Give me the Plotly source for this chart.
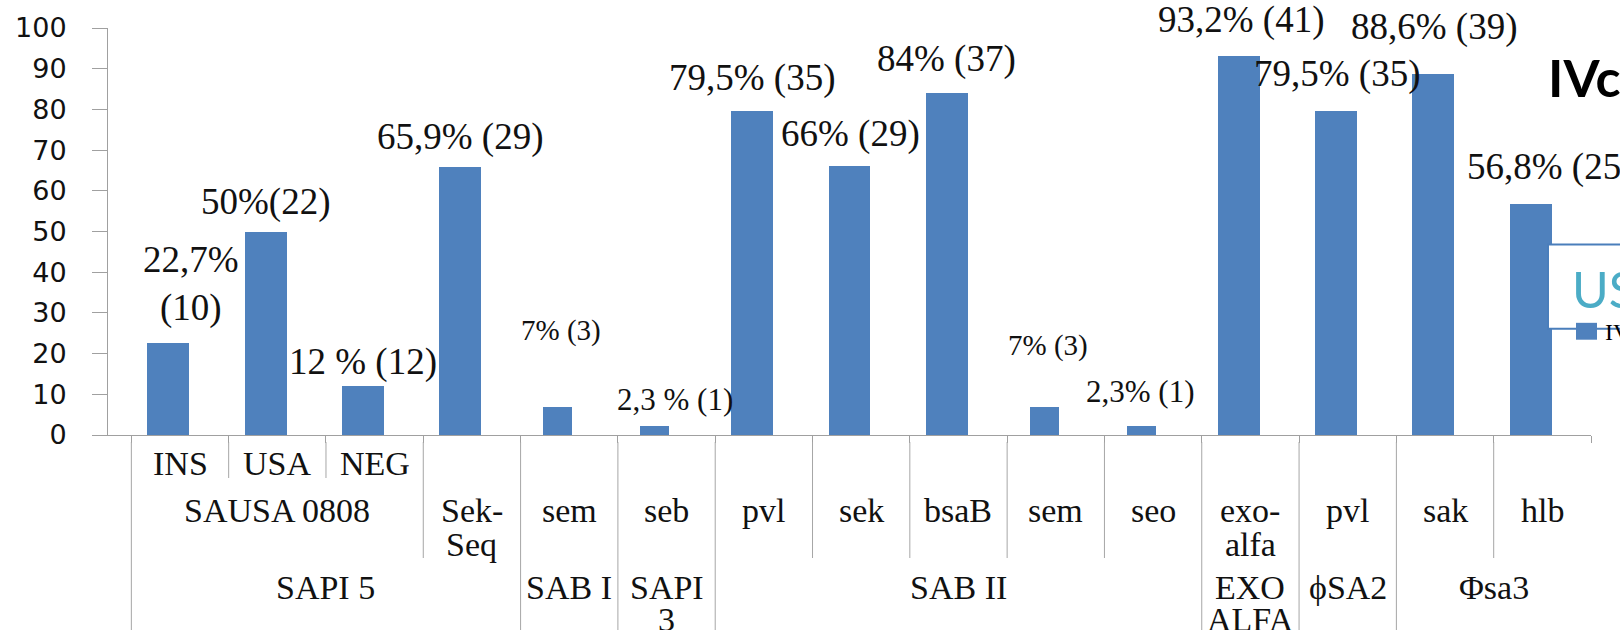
import plotly.graph_objects as go

# ---- data -------------------------------------------------------------
groups = ["SAPI 5"] * 4 + ["SAB I", "SAPI 3"] + ["SAB II"] * 5 + ["EXO ALFA", "ϕSA2", "Φsa3", "Φsa3"]
genes = ["SAUSA 0808"] * 3 + ["Sek-Seq", "sem", "seb", "pvl", "sek", "bsaB", "sem", "seo",
                              "exo-alfa", "pvl", "sak", "hlb"]
subtypes = ["INS", "USA", "NEG"] + [""] * 12
percent = [22.7, 50, 12, 65.9, 7, 2.3, 79.5, 66, 84, 7, 2.3, 93.2, 79.5, 88.6, 56.8]
counts = [10, 22, 12, 29, 3, 1, 35, 29, 37, 3, 1, 41, 35, 39, 25]
value_labels = ["22,7%<br>(10)", "50%(22)", "12 % (12)", "65,9% (29)", "7% (3)", "2,3 % (1)",
                "79,5% (35)", "66% (29)", "84% (37)", "7% (3)", "2,3% (1)", "93,2% (41)",
                "79,5% (35)", "88,6% (39)", "56,8% (25)"]
y_ticks = [0, 10, 20, 30, 40, 50, 60, 70, 80, 90, 100]

# ---- geometry / styles ------------------------------------------------
FIG_W, FIG_H = 1620, 630
M_L, M_R, M_T, M_B = 108, 29, 25, 195
PLOT_W = FIG_W - M_L - M_R
PLOT_H = FIG_H - M_T - M_B
X_RANGE = [-0.74, 14.5]
STEP = PLOT_W / (X_RANGE[1] - X_RANGE[0])

BAR_COLOR = "#4f81bd"
AXIS_GRAY = "#a0a0a0"
SERIF = "Liberation Serif, Times New Roman, serif"

bar_shift = -0.12                      # bars sit slightly left of their column
bar_widths = [0.43] * 4 + [0.3, 0.3] + [0.43] * 3 + [0.3, 0.3] + [0.43] * 4
bar_offsets = [bar_shift - w / 2 for w in bar_widths]

# label placement relative to bar top centre (px right, px up) and font size
label_offsets = [(23, 59), (0, 30), (0, 24), (0, 30), (3, 76), (20, 26), (0, 33), (1, 32),
                 (0, 34), (4, 61), (-1, 34), (2, 36), (1, 37), (1, 47), (19, 37)]
label_sizes = [37, 37, 37, 37, 29, 31, 37, 37, 37, 29, 31, 37, 37, 37, 37]

wrapped = {"Sek-Seq": ["Sek-", "Seq"], "exo-alfa": ["exo-", "alfa"],
           "SAPI 3": ["SAPI", "3"], "EXO ALFA": ["EXO", "ALFA"]}

keys = [" / ".join(p for p in (g, n, s) if p) for g, n, s in zip(groups, genes, subtypes)]


def px_x(p):
    return (p - M_L) / PLOT_W


def px_y(p):
    return (M_T + PLOT_H - p) / PLOT_H


def runs(values):
    out, start = [], 0
    for i in range(1, len(values) + 1):
        if i == len(values) or values[i] != values[start]:
            out.append((start, i - 1))
            start = i
    return out


fig = go.Figure(go.Bar(
    x=keys, y=percent, width=bar_widths, offset=bar_offsets,
    marker=dict(color=BAR_COLOR, line=dict(width=0)),
    customdata=counts, hovertemplate="%{y}% (%{customdata})<extra></extra>",
))

annotations = []

# value labels above the bars
for i, text in enumerate(value_labels):
    dx, dy = label_offsets[i]
    annotations.append(dict(
        x=keys[i], y=percent[i], xref="x", yref="y", text=text, showarrow=False,
        xanchor="center", yanchor="middle", xshift=bar_shift * STEP + dx, yshift=dy,
        font=dict(family=SERIF, size=label_sizes[i], color="#111111"),
    ))

# multi-level category table under the axis
BASE = M_T + PLOT_H
ROWS = {1: (463, 34), 2: (510, 34), 3: (587, 32)}   # centre of first line, line gap


def table_text(text, xc, level):
    row_px, gap = ROWS[level]
    for k, line in enumerate(wrapped.get(text, [text])):
        annotations.append(dict(
            x=xc, xref="x", y=0, yref="paper", yshift=BASE - (row_px + k * gap),
            text=line, showarrow=False, xanchor="center", yanchor="middle",
            font=dict(family=SERIF, size=34, color="#111111"),
        ))


for i, s in enumerate(subtypes):
    if s:
        table_text(s, i, 1)
for a, b in runs(list(zip(groups, genes))):
    table_text(genes[a], (a + b) / 2, 2)
for a, b in runs(groups):
    table_text(groups[a], (a + b) / 2, 3)

shapes = []
for i in range(len(keys)):
    if i == 0 or groups[i] != groups[i - 1]:
        depth = FIG_H - BASE
    elif genes[i] != genes[i - 1]:
        depth = 558 - BASE
    else:
        depth = 478 - BASE
    shapes.append(dict(
        type="line", xref="x", x0=i - 0.5, x1=i - 0.5, yref="paper",
        ysizemode="pixel", yanchor=0, y0=-7, y1=-depth,
        line=dict(color="#a6a6a6", width=1),
    ))

# partial title and legend at the right edge
annotations.append(dict(
    x=px_x(1546), y=px_y(74), xref="paper", yref="paper", text="<b>IVc</b>",
    showarrow=False, xanchor="left", yanchor="middle",
    font=dict(family="Lato, Calibri, sans-serif", size=52, color="#000000"),
))
shapes.append(dict(
    type="rect", xref="paper", yref="paper", x0=px_x(1548), x1=px_x(1640),
    y0=px_y(328), y1=px_y(243), line=dict(color="#4a7ebb", width=2), fillcolor="white",
))
annotations.append(dict(
    x=px_x(1570), y=px_y(288), xref="paper", yref="paper", text="USA",
    showarrow=False, xanchor="left", yanchor="middle",
    font=dict(family="Lato, Calibri, sans-serif", size=50, color="#4bacc6"),
))
shapes.append(dict(
    type="rect", xref="paper", yref="paper", x0=px_x(1576), x1=px_x(1597),
    y0=px_y(339), y1=px_y(322), line=dict(width=0), fillcolor=BAR_COLOR,
))
annotations.append(dict(
    x=px_x(1603), y=px_y(331), xref="paper", yref="paper", text="IVc",
    showarrow=False, xanchor="left", yanchor="middle",
    font=dict(family="Liberation Serif, serif", size=24, color="#000000"),
))

fig.update_layout(
    width=FIG_W, height=FIG_H,
    margin=dict(l=M_L, r=M_R, t=M_T, b=M_B, pad=0),
    plot_bgcolor="white", paper_bgcolor="white",
    showlegend=False, bargap=0,
    annotations=annotations, shapes=shapes,
    xaxis=dict(
        type="category", range=X_RANGE, showticklabels=False, showgrid=False,
        ticks="outside", tickson="boundaries", ticklen=7, tickcolor=AXIS_GRAY,
        showline=True, linecolor=AXIS_GRAY, linewidth=1, zeroline=False, fixedrange=True,
    ),
    yaxis=dict(
        range=[0, 100], tickvals=y_ticks, showgrid=False, zeroline=False,
        showline=True, linecolor=AXIS_GRAY, linewidth=1,
        ticks="outside", ticklen=15, tickcolor=AXIS_GRAY, ticklabelstandoff=20,
        tickfont=dict(family="DejaVu Sans, Verdana, sans-serif", size=27, color="#111111"),
        fixedrange=True,
    ),
)

fig.write_html("out.html")
